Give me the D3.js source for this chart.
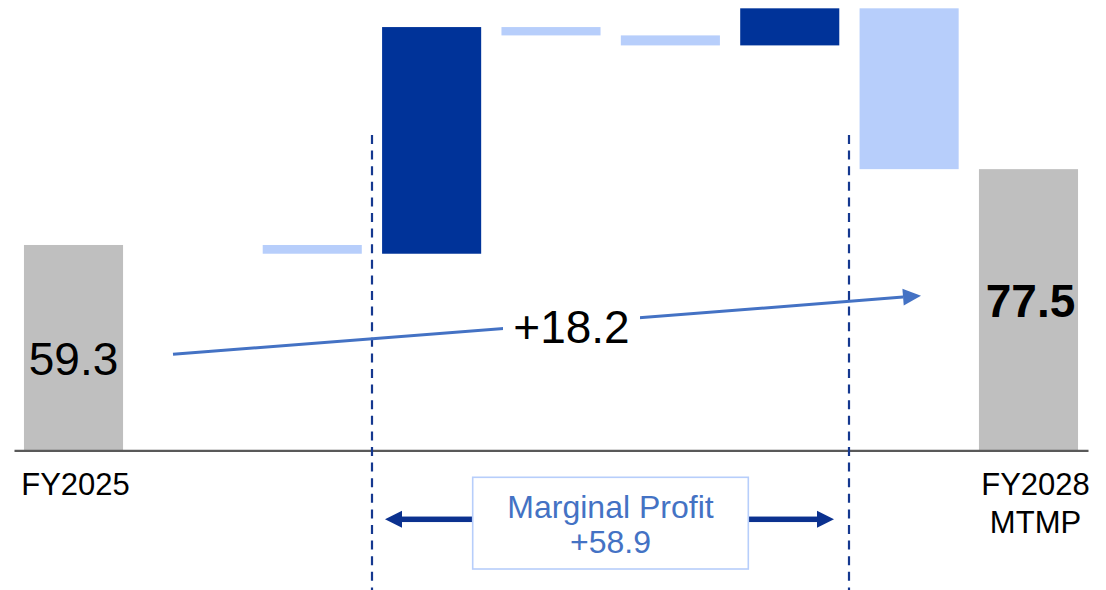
<!DOCTYPE html>
<html>
<head>
<meta charset="utf-8">
<script src="https://cdn.jsdelivr.net/npm/d3@7"></script>
<style>
  html, body { margin: 0; padding: 0; background: #fff; }
  svg { display: block; font-family: "Liberation Sans", Arial, sans-serif; }
</style>
</head>
<body>
<svg id="chart" width="1106" height="590"></svg>
<script>
// Bridge slots: opening total, movements, closing total
const categories = ["FY2025", "m0", "m1", "m2", "m3", "m4", "m5", "m6", "FY2028\nMTMP"];
const values     = [59.3, 0, -2.1, 54.4, -2.0, -2.4, 8.9, -38.6, 77.5];
const kinds      = ["total", "step", "step", "step", "step", "step", "step", "step", "total"];

// Marginal profit group spans these movement slots
const marginalStart = "m2";
const marginalEnd   = "m5";
const marginalLabel = ["Marginal Profit", "+58.9"];
const bridgeLabel   = "+18.2";

const colors = { total: "#BFBFBF", up: "#003399", down: "#B7CEFB" };

const svg = d3.select("#chart");

const x = d3.scaleBand()
  .domain(categories)
  .range([14, 1088])
  .paddingInner(0.17)
  .paddingOuter(0.0835);

const y = d3.scaleLinear()
  .domain([10, 118])
  .range([450.4, 0.4]);

// running cumulative levels for the waterfall
let level = 0;
const bars = categories.map((c, i) => {
  let y0, y1;
  if (kinds[i] === "total") {
    y0 = y.domain()[0];
    y1 = values[i];
    level = values[i];
  } else {
    y0 = level;
    y1 = level + values[i];
    level = y1;
  }
  const fill = kinds[i] === "total" ? colors.total : (values[i] >= 0 ? colors.up : colors.down);
  return { c, v: values[i], kind: kinds[i], lo: Math.min(y0, y1), hi: Math.max(y0, y1), fill };
});

svg.append("g")
  .selectAll("rect")
  .data(bars.filter(d => d.v !== 0))
  .join("rect")
  .attr("x", d => x(d.c))
  .attr("width", x.bandwidth())
  .attr("y", d => y(d.hi))
  .attr("height", d => y(d.lo) - y(d.hi))
  .attr("fill", d => d.fill);

// category axis along the baseline
const axis = svg.append("g")
  .attr("transform", `translate(0,${y(10)})`)
  .call(d3.axisBottom(x).tickSize(0).tickPadding(0).tickFormat(() => ""));
axis.select(".domain").attr("stroke", "#595959").attr("stroke-width", 2.2);

const labelOffsets = { "FY2025": 2, "FY2028\nMTMP": 7 };
axis.selectAll(".tick")
  .filter(d => !d.startsWith("m"))
  .select("text")
  .attr("fill", "#000")
  .attr("font-size", 31)
  .attr("font-family", "Liberation Sans, Arial, sans-serif")
  .attr("text-anchor", "middle")
  .attr("y", 0)
  .attr("dy", 0)
  .each(function(d) {
    const t = d3.select(this);
    d.split("\n").forEach((line, k) => {
      t.append("tspan")
        .attr("x", labelOffsets[d] || 0)
        .attr("y", 44.5 + k * 38.5)
        .text(line);
    });
  });

// value labels on the totals
const first = bars[0], last = bars[bars.length - 1];
svg.append("text")
  .attr("x", x(first.c) + x.bandwidth() / 2)
  .attr("y", 375)
  .attr("text-anchor", "middle")
  .attr("font-size", 46)
  .attr("fill", "#000")
  .text(first.v.toFixed(1));
svg.append("text")
  .attr("x", x(last.c) + x.bandwidth() / 2 + 2)
  .attr("y", 317)
  .attr("text-anchor", "middle")
  .attr("font-size", 46)
  .attr("font-weight", "bold")
  .attr("fill", "#000")
  .text(last.v.toFixed(1));

// dashed guides around the marginal profit group
const gap = x.step() - x.bandwidth();
const gx0 = Math.round(x(marginalStart) - gap / 2);
const gx1 = Math.round(x(marginalEnd) + x.bandwidth() + gap / 2);
svg.append("g")
  .selectAll("line")
  .data([gx0, gx1])
  .join("line")
  .attr("x1", d => d).attr("x2", d => d)
  .attr("y1", 135).attr("y2", 590)
  .attr("stroke", "#15388F")
  .attr("stroke-width", 2.2)
  .attr("stroke-dasharray", "9,6.6");

// bridge arrow from opening to closing total
const ax0 = 173, ay0 = 354.3, ax1 = 921, ay1 = 295.7;
const ang = Math.atan2(ay1 - ay0, ax1 - ax0);
const headLen = 18, headW = 17;
const bx = ax1 - headLen * Math.cos(ang), by = ay1 - headLen * Math.sin(ang);
svg.append("line")
  .attr("x1", ax0).attr("y1", ay0)
  .attr("x2", bx).attr("y2", by)
  .attr("stroke", "#4472C4")
  .attr("stroke-width", 3);
svg.append("path")
  .attr("d", d3.line()([
    [ax1, ay1],
    [bx + (headW / 2) * Math.sin(ang), by - (headW / 2) * Math.cos(ang)],
    [bx - (headW / 2) * Math.sin(ang), by + (headW / 2) * Math.cos(ang)]
  ]) + "Z")
  .attr("fill", "#4472C4");

const bcx = 571.5;
svg.append("rect")
  .attr("x", 503).attr("y", 303)
  .attr("width", 137).attr("height", 45)
  .attr("fill", "#fff");
svg.append("text")
  .attr("x", bcx).attr("y", 343)
  .attr("text-anchor", "middle")
  .attr("font-size", 46)
  .attr("fill", "#000")
  .text(bridgeLabel);

// marginal profit callout with double arrow
const mcx = (gx0 + gx1) / 2;
const boxW = 275.6, boxTop = 477.3, boxH = 91.7;
const arrowY = 519.3;
const navy = "#0B318F";
const tipL = gx0 + 13, tipR = gx1 - 15;
const hL = 17, hW = 17, shaft = 5.5;

svg.append("rect")
  .attr("x", tipL + hL - 1).attr("y", arrowY - shaft / 2)
  .attr("width", (mcx - boxW / 2) - (tipL + hL - 1)).attr("height", shaft)
  .attr("fill", navy);
svg.append("path")
  .attr("d", `M${tipL},${arrowY}L${tipL + hL},${arrowY - hW / 2}L${tipL + hL},${arrowY + hW / 2}Z`)
  .attr("fill", navy);
svg.append("rect")
  .attr("x", mcx + boxW / 2).attr("y", arrowY - shaft / 2)
  .attr("width", (tipR - hL + 1) - (mcx + boxW / 2)).attr("height", shaft)
  .attr("fill", navy);
svg.append("path")
  .attr("d", `M${tipR},${arrowY}L${tipR - hL},${arrowY - hW / 2}L${tipR - hL},${arrowY + hW / 2}Z`)
  .attr("fill", navy);

svg.append("rect")
  .attr("x", mcx - boxW / 2).attr("y", boxTop)
  .attr("width", boxW).attr("height", boxH)
  .attr("fill", "#fff")
  .attr("stroke", "#B7CEFB")
  .attr("stroke-width", 1.6);

svg.append("g")
  .selectAll("text")
  .data(marginalLabel)
  .join("text")
  .attr("x", mcx)
  .attr("y", (d, i) => 518 + i * 35)
  .attr("text-anchor", "middle")
  .attr("font-size", 32)
  .attr("fill", "#4472C4")
  .text(d => d);
</script>
</body>
</html>
